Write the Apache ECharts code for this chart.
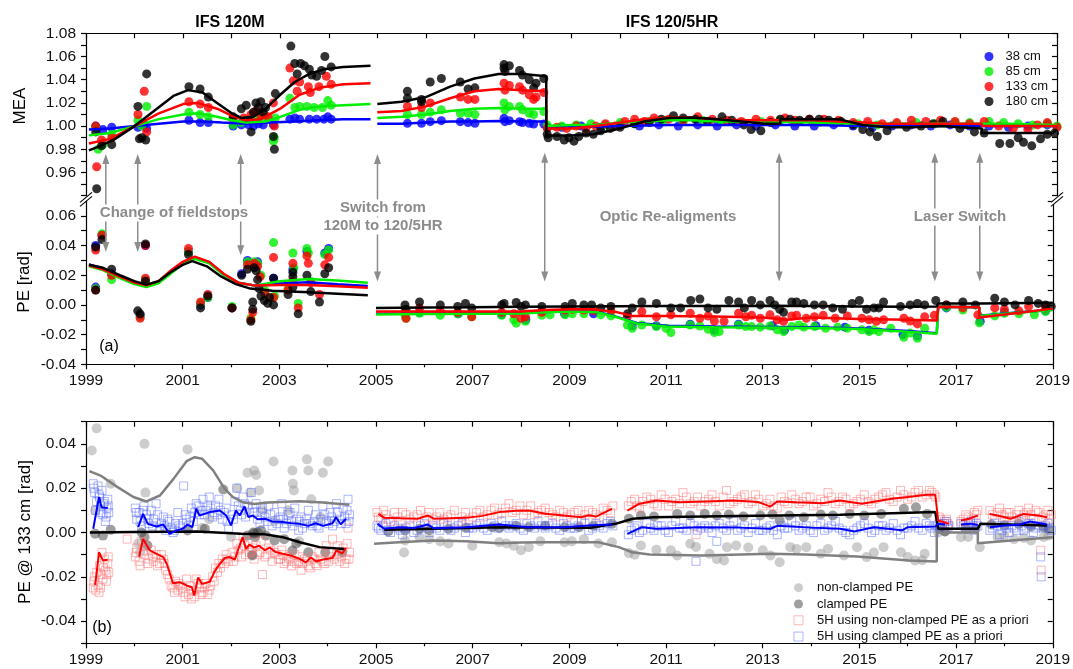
<!DOCTYPE html>
<html>
<head>
<meta charset="utf-8">
<script src="https://cdn.jsdelivr.net/npm/echarts/dist/echarts.min.js"></script>
<style>
  html, body { margin: 0; padding: 0; background: #fff; }
  #chart { width: 1073px; height: 669px; }
</style>
</head>
<body>
<div id="chart"></div>
<script>
// ---------- (a) MEA samples, [year, MEA] per detector height ----------
const mea38 = [
  [1999.2,1.000],[1999.22,0.998],[1999.35,0.997],[1999.53,0.999],[2000.07,0.999],[2000.2,1.001],[2000.25,0.998],
  [2001.12,1.005],[2001.35,1.003],[2001.52,1.003],[2002.03,1.000],[2002.2,1.001],[2002.35,1.001],[2002.45,1.000],
  [2002.55,1.002],[2002.65,1.001],[2002.86,1.001],[2003.2,1.006],[2003.3,1.007],[2003.4,1.006],[2003.6,1.006],
  [2003.75,1.006],[2003.9,1.006],[2003.98,1.008],[2004.05,1.006],
  [2005.62,1.0024],[2005.91,1.0024],[2006.09,1.0038],[2006.32,1.0047],[2006.71,1.0038],[2006.87,1.003],[2007.01,1.0024],
  [2007.61,1.0067],[2007.63,1.0038],[2007.72,1.0047],[2007.93,1.0038],[2007.99,1.003],[2008.13,1.0024],[2008.22,1.0018],[2008.43,1.0018],
  [2008.5,0.999],[2008.8,0.999],[2009.2,1.000],[2009.6,0.999],[2010.0,1.001],[2010.4,1.000],[2010.8,1.001],[2011.2,1.000],
  [2011.6,1.001],[2012.0,1.000],[2012.4,1.001],[2012.8,1.000],[2013.2,1.001],[2013.6,1.000],[2014.0,1.000],[2014.4,1.001],
  [2014.8,1.000],[2015.2,0.999],[2015.6,1.000],[2016.0,1.001],[2016.4,1.000],[2016.8,1.001],[2017.2,1.000],[2017.6,1.000],
  [2018.0,0.999],[2018.4,1.000],[2018.8,1.001]
];
const mea85 = [
  [1999.2,0.999],[1999.25,0.980],[1999.35,0.984],[1999.53,0.993],[2000.07,1.005],[2000.15,1.000],[2000.25,1.017],
  [2001.12,1.012],[2001.35,1.010],[2001.52,1.008],[2002.03,1.001],[2002.2,1.003],[2002.4,1.006],[2002.55,1.007],
  [2002.7,1.008],[2002.86,0.987],[2002.88,0.990],[2002.9,1.007],[2003.2,1.024],[2003.3,1.016],[2003.4,1.017],
  [2003.55,1.017],[2003.7,1.016],[2003.87,1.016],[2003.98,1.022],[2004.05,1.018],
  [2005.62,1.010],[2005.91,1.010],[2006.09,1.012],[2006.32,1.014],[2006.71,1.011],[2006.87,1.011],[2007.01,1.010],
  [2007.61,1.020],[2007.63,1.014],[2007.72,1.017],[2007.93,1.017],[2007.99,1.014],[2008.13,1.011],[2008.22,1.010],[2008.43,1.0125],
  [2008.5,1.001],[2008.8,1.000],[2009.1,1.001],[2009.4,1.002],[2009.7,1.001],[2010.0,1.003],[2010.3,1.002],[2010.6,1.004],
  [2010.9,1.005],[2011.3,1.004],[2011.7,1.005],[2012.1,1.004],[2012.5,1.003],[2012.9,1.004],[2013.3,1.005],[2013.7,1.004],
  [2014.1,1.003],[2014.5,1.004],[2014.9,1.002],[2015.3,1.001],[2015.7,1.002],[2016.1,1.003],[2016.5,1.002],[2016.9,1.003],
  [2017.2,1.003],[2017.6,1.004],[2017.9,1.003],[2018.2,1.002],[2018.5,1.001],[2018.8,1.002],[2019.0,1.000]
];
const mea133 = [
  [1999.2,1.000],[1999.22,0.965],[1999.32,0.988],[1999.53,0.990],[2000.07,1.010],[2000.2,1.030],[2000.25,0.995],
  [2001.12,1.021],[2001.35,1.019],[2001.52,1.016],[2002.03,1.006],[2002.25,1.007],[2002.4,1.010],[2002.5,1.013],
  [2002.6,1.009],[2002.75,1.008],[2002.86,1.020],[2002.88,1.000],[2003.2,1.050],[2003.27,1.039],[2003.35,1.030],
  [2003.4,1.038],[2003.58,1.034],[2003.62,1.029],[2003.8,1.034],[2003.95,1.043],[2004.05,1.036],
  [2005.62,1.017],[2005.91,1.016],[2006.09,1.020],[2006.71,1.025],[2006.87,1.023],[2007.01,1.023],[2007.61,1.037],
  [2007.63,1.031],[2007.72,1.035],[2007.93,1.034],[2007.99,1.031],[2008.13,1.027],[2008.22,1.023],[2008.27,1.025],[2008.43,1.029],
  [2008.5,0.998],[2008.7,0.999],[2008.9,0.998],[2009.1,1.000],[2009.3,0.998],[2009.5,1.000],[2009.7,1.002],[2009.9,1.000],
  [2010.1,1.004],[2010.3,1.006],[2010.5,1.004],[2010.7,1.007],[2011.0,1.006],[2011.3,1.005],[2011.6,1.008],[2011.9,1.006],
  [2012.2,1.005],[2012.5,1.004],[2012.8,1.006],[2013.1,1.005],[2013.4,1.007],[2013.6,1.005],[2013.9,1.006],[2014.2,1.006],
  [2014.5,1.005],[2014.8,1.003],[2015.1,1.004],[2015.4,1.002],[2015.7,1.003],[2016.0,1.005],[2016.3,1.004],[2016.6,1.005],
  [2016.9,1.004],[2017.2,1.002],[2017.5,1.004],[2017.8,1.000],[2018.1,0.998],[2018.4,0.997],[2018.6,1.001],[2018.8,1.003],[2019.0,0.999]
];
const mea180 = [
  [1999.2,0.995],[1999.22,0.946],[1999.32,0.983],[1999.53,0.984],[2000.07,1.017],[2000.1,0.989],[2000.15,0.990],
  [2000.23,0.988],[2000.25,1.045],[2001.12,1.034],[2001.35,1.032],[2001.52,1.025],[2002.03,1.008],[2002.2,1.015],
  [2002.3,1.018],[2002.35,1.005],[2002.4,0.995],[2002.45,1.012],[2002.5,1.020],[2002.55,1.016],[2002.6,1.021],
  [2002.65,1.012],[2002.7,1.016],[2002.86,0.991],[2002.88,0.980],[2002.9,1.028],[2003.22,1.069],[2003.3,1.054],
  [2003.35,1.045],[2003.42,1.054],[2003.5,1.052],[2003.6,1.049],[2003.65,1.044],[2003.75,1.043],[2003.85,1.048],
  [2003.92,1.060],[2004.05,1.051],
  [2005.62,1.030],[2005.62,1.024],[2005.91,1.023],[2005.91,1.021],[2006.09,1.038],[2006.32,1.041],[2006.71,1.038],
  [2006.87,1.032],[2007.01,1.033],[2007.61,1.053],[2007.61,1.050],[2007.63,1.047],[2007.72,1.052],[2007.93,1.048],
  [2007.99,1.044],[2008.13,1.040],[2008.22,1.033],[2008.27,1.037],[2008.43,1.041],
  [2008.5,0.993],[2008.52,0.990],[2008.7,0.991],[2008.85,0.988],[2008.95,0.990],[2009.05,0.987],[2009.15,0.991],
  [2009.3,0.994],[2009.45,0.993],[2009.6,0.996],[2009.8,0.998],[2010.0,0.999],[2010.3,1.002],[2010.6,1.003],
  [2010.85,1.006],[2011.1,1.009],[2011.3,1.007],[2011.55,1.006],[2011.8,1.004],[2012.1,1.008],[2012.3,1.005],
  [2012.55,1.001],[2012.7,0.997],[2012.9,0.996],[2013.1,1.003],[2013.3,1.006],[2013.5,1.006],[2013.7,1.005],
  [2013.9,1.006],[2014.1,1.006],[2014.3,1.005],[2014.55,1.004],[2014.8,1.001],[2015.0,0.997],[2015.15,0.995],
  [2015.3,0.991],[2015.5,0.996],[2015.9,0.999],[2016.2,1.000],[2016.45,1.002],[2016.65,1.004],[2017.0,0.998],
  [2017.3,0.995],[2017.5,0.994],[2017.82,0.985],[2018.03,0.985],[2018.2,0.990],[2018.31,0.986],[2018.48,0.983],
  [2018.66,0.989],[2018.8,0.993],[2018.95,0.994]
];

// ---------- (a) MEA fitted curves (null = gap between instruments) ----------
const meaFit38 = [
  [1999.06,0.997],[1999.5,0.998],[2000.0,1.000],[2000.5,1.002],[2001.0,1.004],[2001.4,1.004],[2001.8,1.003],
  [2002.3,1.002],[2002.8,1.003],[2003.3,1.004],[2003.8,1.005],[2004.3,1.006],[2004.86,1.006], null,
  [2005.0,1.002],[2005.5,1.002],[2006.0,1.003],[2006.5,1.004],[2007.0,1.004],[2007.5,1.0045],[2008.0,1.004],
  [2008.48,1.004],[2008.48,0.999],[2009.0,0.999],[2010.0,1.000],[2011.0,1.001],[2012.0,1.001],[2013.0,1.001],
  [2014.0,1.001],[2015.0,1.000],[2016.0,1.000],[2017.0,1.000],[2018.0,1.000],[2019.0,1.000]
];
const meaFit85 = [
  [1999.06,0.992],[1999.5,0.994],[2000.0,1.000],[2000.5,1.006],[2001.0,1.010],[2001.3,1.011],[2001.7,1.008],
  [2002.0,1.005],[2002.3,1.003],[2002.7,1.004],[2003.0,1.008],[2003.4,1.014],[2003.8,1.017],[2004.3,1.018],[2004.86,1.019], null,
  [2005.0,1.007],[2005.5,1.008],[2006.0,1.010],[2006.5,1.013],[2007.0,1.015],[2007.5,1.0155],[2008.0,1.015],
  [2008.48,1.015],[2008.48,1.000],[2009.0,1.001],[2009.5,1.001],[2010.0,1.003],[2010.5,1.004],[2011.0,1.005],
  [2011.5,1.005],[2012.0,1.004],[2013.0,1.004],[2014.0,1.003],[2015.0,1.002],[2016.0,1.002],[2017.45,1.002],
  [2018.0,1.002],[2019.0,1.001]
];
const meaFit133 = [
  [1999.06,0.985],[1999.5,0.989],[2000.0,1.000],[2000.5,1.011],[2001.0,1.019],[2001.3,1.020],[2001.7,1.015],
  [2002.0,1.009],[2002.3,1.005],[2002.6,1.006],[2003.0,1.015],[2003.4,1.027],[2003.8,1.033],[2004.3,1.036],[2004.86,1.037], null,
  [2005.0,1.012],[2005.5,1.013],[2006.0,1.017],[2006.5,1.024],[2007.0,1.030],[2007.5,1.032],[2008.0,1.031],
  [2008.48,1.030],[2008.48,0.998],[2009.0,0.998],[2009.5,1.000],[2010.0,1.003],[2010.5,1.006],[2011.0,1.0075],
  [2011.5,1.0075],[2012.0,1.006],[2012.5,1.005],[2013.5,1.005],[2014.0,1.005],[2014.5,1.004],[2015.0,1.003],
  [2015.5,1.002],[2016.6,1.002],[2017.45,1.002],[2017.45,1.000],[2018.0,1.000],[2019.0,1.000]
];
const meaFit180 = [
  [1999.06,0.979],[1999.3,0.983],[1999.6,0.989],[2000.0,1.000],[2000.4,1.013],[2000.8,1.026],[2001.1,1.031],
  [2001.4,1.029],[2001.7,1.020],[2002.0,1.011],[2002.2,1.007],[2002.45,1.008],[2002.7,1.015],[2003.0,1.027],
  [2003.3,1.038],[2003.6,1.045],[2003.9,1.049],[2004.3,1.051],[2004.86,1.052], null,
  [2005.0,1.019],[2005.5,1.021],[2006.0,1.025],[2006.5,1.034],[2007.0,1.041],[2007.5,1.045],[2008.0,1.045],
  [2008.48,1.043],[2008.48,0.992],[2009.0,0.992],[2009.45,0.993],[2010.0,0.998],[2010.5,1.004],[2011.0,1.007],
  [2011.5,1.0075],[2012.0,1.006],[2012.5,1.004],[2013.0,1.002],[2013.3,1.002],[2013.3,1.006],[2014.0,1.006],
  [2014.5,1.006],[2015.0,1.001],[2015.5,0.999],[2016.0,0.999],[2016.6,1.000],[2017.0,0.999],[2017.45,0.998],
  [2017.45,0.994],[2018.0,0.994],[2018.9,0.994],[2019.0,0.997]
];

// ---------- (a) PE samples, [year, PE rad] ----------
const pe38 = [
  [1999.2,0.040],[1999.2,0.012],[1999.33,0.047],[1999.53,0.021],[2000.12,-0.007],[2000.23,0.040],[2001.12,0.036],
  [2001.37,0.000],[2001.52,0.005],[2002.02,-0.002],[2002.22,0.021],[2002.34,0.030],[2002.48,0.027],[2002.55,0.029],
  [2002.88,0.018],[2003.28,0.024],[2003.57,0.036],[2003.94,0.035],[2004.02,0.038],
  [2005.6,-0.006],[2005.9,-0.005],[2006.7,-0.006],[2007.6,-0.0065],[2008.1,-0.010],[2008.9,-0.006],[2009.5,-0.006],
  [2010.3,-0.014],[2010.8,-0.014],[2011.5,-0.013],[2012.0,-0.017],[2012.5,-0.013],[2013.2,-0.014],[2013.45,-0.017],
  [2014.1,-0.014],[2014.7,-0.015],[2015.2,-0.017],[2015.9,-0.020],[2016.2,-0.021],[2016.8,-0.002],[2017.5,-0.011],
  [2018.0,-0.005],[2018.85,-0.004]
];
const pe85 = [
  [1999.2,0.011],[1999.33,0.048],[1999.53,0.017],[2000.12,-0.008],[2000.23,0.017],[2001.12,0.036],[2001.37,0.001],
  [2001.52,0.005],[2002.02,-0.001],[2002.34,0.029],[2002.41,-0.009],[2002.48,0.029],[2002.55,0.028],[2002.62,0.020],
  [2002.7,0.010],[2002.88,0.042],[2002.9,0.006],[2003.18,0.011],[2003.28,0.035],[2003.3,0.025],[2003.39,0.001],
  [2003.57,0.038],[2003.6,0.035],[2003.65,0.016],[2003.94,0.034],[2004.02,0.037],
  [2005.6,-0.0067],[2005.62,-0.009],[2005.9,-0.0056],[2006.33,-0.007],[2006.69,-0.006],[2006.98,-0.008],[2007.6,-0.007],
  [2007.85,-0.010],[2007.9,-0.0123],[2008.09,-0.011],[2008.43,-0.007],[2008.6,-0.0067],[2008.91,-0.0067],[2009.06,-0.006],
  [2009.3,-0.006],[2009.65,-0.0067],[2009.86,-0.0074],[2010.2,-0.0135],[2010.3,-0.0157],[2010.5,-0.0135],[2010.8,-0.0146],
  [2011.0,-0.0157],[2011.1,-0.0186],[2011.5,-0.0135],[2011.7,-0.0142],[2011.87,-0.0164],[2012.0,-0.0186],[2012.1,-0.018],
  [2012.5,-0.0135],[2012.65,-0.0146],[2012.77,-0.0146],[2012.95,-0.015],[2013.15,-0.0142],[2013.3,-0.0168],[2013.43,-0.018],
  [2013.6,-0.0146],[2013.75,-0.0135],[2013.85,-0.015],[2014.07,-0.0146],[2014.3,-0.0157],[2014.55,-0.015],[2014.75,-0.0157],
  [2015.05,-0.0168],[2015.2,-0.018],[2015.3,-0.0168],[2015.4,-0.018],[2015.65,-0.0157],[2015.92,-0.0218],[2016.05,-0.019],
  [2016.2,-0.0225],[2016.35,-0.0157],[2016.8,-0.0016],[2017.14,-0.0034],[2017.48,-0.012],[2017.8,-0.0074],[2018.0,-0.0056],
  [2018.3,-0.006],[2018.62,-0.0067],[2018.85,-0.0045]
];
const pe133 = [
  [1999.2,0.037],[1999.2,0.010],[1999.33,0.047],[1999.53,0.020],[2000.12,-0.009],[2000.23,0.040],[2000.23,0.018],
  [2001.12,0.038],[2001.37,0.002],[2001.52,0.007],[2002.02,-0.002],[2002.34,0.027],[2002.41,-0.010],[2002.45,-0.005],
  [2002.48,0.028],[2002.55,0.026],[2002.6,0.019],[2002.7,0.008],[2002.88,0.032],[2002.88,0.005],[2003.18,0.010],
  [2003.28,0.028],[2003.28,0.016],[2003.39,-0.002],[2003.57,0.033],[2003.6,0.028],[2003.65,0.015],[2003.83,0.007],
  [2003.94,0.027],[2004.02,0.032],
  [2005.6,-0.0045],[2005.62,-0.009],[2005.9,-0.002],[2006.33,-0.004],[2006.69,-0.005],[2006.98,-0.008],[2007.6,-0.005],
  [2007.85,-0.006],[2008.0,-0.009],[2008.09,-0.008],[2008.43,-0.005],[2008.91,-0.0035],[2009.06,-0.003],[2009.3,-0.0035],
  [2009.5,-0.004],[2009.86,-0.004],[2010.2,-0.008],[2010.5,-0.0045],[2010.8,-0.008],[2011.1,-0.0067],[2011.5,-0.0056],
  [2011.7,-0.009],[2011.87,-0.0075],[2012.0,-0.011],[2012.2,-0.011],[2012.5,-0.0056],[2012.65,-0.008],[2012.77,-0.007],
  [2012.95,-0.009],[2013.15,-0.0067],[2013.3,-0.010],[2013.43,-0.011],[2013.6,-0.0075],[2013.7,-0.007],[2013.9,-0.009],
  [2014.07,-0.008],[2014.25,-0.007],[2014.5,-0.009],[2014.75,-0.0074],[2015.05,-0.009],[2015.2,-0.010],[2015.35,-0.011],
  [2015.5,-0.010],[2015.92,-0.009],[2016.05,-0.0108],[2016.2,-0.0128],[2016.35,-0.008],[2016.55,-0.007],[2016.8,0.000],
  [2017.14,-0.002],[2017.45,-0.0067],[2017.8,-0.002],[2018.0,-0.003],[2018.3,-0.004],[2018.5,-0.001],[2018.85,-0.002]
];
const pe180 = [
  [1999.2,0.039],[1999.2,0.010],[1999.33,0.044],[1999.53,0.024],[2000.07,-0.004],[2000.12,-0.006],[2000.23,0.041],
  [2000.23,0.016],[2001.12,0.034],[2001.37,-0.002],[2001.52,0.006],[2002.02,-0.002],[2002.22,0.020],[2002.34,0.024],
  [2002.41,-0.011],[2002.45,0.002],[2002.45,-0.003],[2002.48,0.025],[2002.52,0.023],[2002.55,0.017],[2002.58,0.011],
  [2002.62,0.006],[2002.69,0.003],[2002.76,0.001],[2002.8,0.005],[2002.88,0.018],[2002.88,0.000],[2003.18,0.007],
  [2003.28,0.022],[2003.28,0.019],[2003.28,0.012],[2003.39,-0.006],[2003.57,0.020],[2003.65,0.009],[2003.83,0.002],
  [2003.94,0.021],[2004.02,0.025],
  [2005.6,0.000],[2005.62,-0.003],[2005.9,0.002],[2006.33,0.000],[2006.69,-0.001],[2006.85,0.001],[2006.98,-0.002],
  [2007.6,0.000],[2007.65,0.001],[2007.9,0.0016],[2008.0,-0.001],[2008.09,0.000],[2008.43,-0.001],[2008.91,-0.001],
  [2009.06,0.001],[2009.3,0.000],[2009.46,0.000],[2009.65,-0.002],[2009.86,-0.001],[2010.2,-0.006],[2010.3,-0.002],
  [2010.5,0.002],[2010.8,0.001],[2011.1,-0.002],[2011.3,-0.002],[2011.51,0.003],[2011.7,0.004],[2011.87,-0.002],
  [2012.05,-0.003],[2012.3,0.003],[2012.5,0.002],[2012.62,-0.002],[2012.77,0.003],[2012.95,0.000],[2013.15,0.003],
  [2013.25,0.000],[2013.35,-0.003],[2013.43,-0.005],[2013.6,0.002],[2013.7,0.002],[2013.85,0.001],[2014.07,0.000],
  [2014.25,0.000],[2014.45,-0.002],[2014.65,-0.003],[2014.85,0.001],[2015.0,0.003],[2015.15,-0.003],[2015.3,-0.002],
  [2015.4,-0.002],[2015.5,0.002],[2015.85,-0.001],[2016.05,0.000],[2016.2,0.001],[2016.35,0.000],[2016.58,0.003],
  [2016.8,0.000],[2017.14,0.002],[2017.4,0.000],[2017.8,0.0045],[2018.0,0.002],[2018.22,0.000],[2018.5,0.003],
  [2018.7,0.001],[2018.85,0.000],[2018.97,-0.001]
];

// ---------- (a) PE fitted curves ----------
const peFit38 = [
  [1999.06,0.0272],[1999.35,0.0245],[1999.7,0.0188],[2000.0,0.0148],[2000.25,0.0128],[2000.5,0.0153],[2000.75,0.0222],
  [2001.0,0.0283],[2001.25,0.0318],[2001.55,0.0288],[2001.85,0.0205],[2002.15,0.015],[2002.5,0.013],[2003.0,0.0145],
  [2003.6,0.0152],[2004.2,0.014],[2004.83,0.0128], null,
  [2005.0,-0.006],[2006.0,-0.0058],[2007.0,-0.0056],[2008.0,-0.0054],[2008.5,-0.0047],[2009.0,-0.0042],[2009.6,-0.0047],
  [2010.0,-0.0082],[2010.4,-0.0122],[2011.0,-0.0141],[2012.0,-0.0146],[2013.0,-0.0148],[2014.0,-0.0151],[2015.0,-0.0159],
  [2016.0,-0.0176],[2016.6,-0.0191],[2016.63,-0.0012],[2017.48,-0.0015],[2017.48,-0.0073],[2018.0,-0.0058],[2019.0,-0.0033]
];
const peFit85 = [
  [1999.06,0.026],[1999.35,0.0235],[1999.7,0.018],[2000.0,0.014],[2000.25,0.012],[2000.5,0.0145],[2000.75,0.021],
  [2001.0,0.0275],[2001.25,0.031],[2001.55,0.028],[2001.85,0.020],[2002.15,0.015],[2002.5,0.013],[2003.0,0.016],
  [2003.6,0.0175],[2004.2,0.0165],[2004.83,0.015], null,
  [2005.0,-0.0065],[2006.0,-0.0062],[2007.0,-0.006],[2008.0,-0.0058],[2008.5,-0.005],[2009.0,-0.0045],[2009.6,-0.005],
  [2010.0,-0.0085],[2010.4,-0.0125],[2011.0,-0.0145],[2012.0,-0.015],[2013.0,-0.0152],[2014.0,-0.0155],[2015.0,-0.0163],
  [2016.0,-0.018],[2016.6,-0.0195],[2016.63,-0.0012],[2017.48,-0.0015],[2017.48,-0.0075],[2018.0,-0.006],[2019.0,-0.0035]
];
const peFit133 = [
  [1999.06,0.0267],[1999.35,0.024],[1999.7,0.019],[2000.0,0.015],[2000.25,0.0132],[2000.5,0.016],[2000.75,0.023],
  [2001.0,0.029],[2001.25,0.0325],[2001.55,0.029],[2001.85,0.021],[2002.15,0.015],[2002.5,0.013],[2003.0,0.0135],
  [2003.6,0.0135],[2004.2,0.0125],[2004.83,0.0115], null,
  [2005.0,-0.0045],[2006.0,-0.0045],[2007.0,-0.0045],[2008.0,-0.0045],[2008.5,-0.0035],[2009.0,-0.003],[2009.5,-0.003],
  [2010.0,-0.005],[2010.3,-0.0074],[2011.0,-0.0075],[2012.0,-0.0078],[2013.0,-0.0085],[2013.5,-0.010],[2014.0,-0.0085],
  [2015.0,-0.0095],[2016.0,-0.010],[2016.6,-0.0105],[2016.63,-0.0012],[2017.48,-0.0015],[2017.48,-0.0085],[2018.0,-0.0065],
  [2019.0,-0.0025]
];
const peFit180 = [
  [1999.06,0.027],[1999.35,0.025],[1999.7,0.020],[2000.0,0.016],[2000.25,0.0137],[2000.5,0.016],[2000.75,0.022],
  [2001.0,0.027],[2001.2,0.0295],[2001.5,0.026],[2001.8,0.019],[2002.1,0.014],[2002.4,0.011],[2002.85,0.0095],
  [2003.6,0.0085],[2004.2,0.0075],[2004.83,0.0065], null,
  [2005.0,-0.002],[2006.0,-0.0017],[2007.0,-0.0015],[2008.0,-0.0012],[2009.0,-0.001],[2010.0,-0.0009],[2011.0,-0.0008],
  [2012.0,-0.0007],[2013.0,-0.0006],[2014.0,-0.0008],[2015.0,-0.001],[2016.0,-0.0012],[2016.6,-0.001],[2016.63,0.001],
  [2017.5,0.001],[2018.0,0.0012],[2019.0,0.0015]
];

// ---------- (b) PE at 133 cm ----------
const nonClampedPE = [
  [1999.12,0.037],[1999.19,0.010],[1999.22,0.047],[1999.51,0.022],[2000.08,-0.005],[2000.12,-0.009],[2000.21,0.040],
  [2000.23,0.018],[2001.1,0.0375],[2001.4,0.002],[2001.55,0.006],[2002.0,-0.002],[2002.13,0.020],[2002.34,0.027],
  [2002.4,0.018],[2002.44,-0.010],[2002.48,0.028],[2002.52,0.026],[2002.58,0.019],[2002.65,0.010],[2002.88,0.032],
  [2002.9,0.005],[2003.18,0.010],[2003.27,0.028],[2003.28,0.022],[2003.3,0.019],[2003.41,-0.004],[2003.57,0.033],
  [2003.6,0.028],[2003.66,0.015],[2003.85,0.007],[2003.9,0.027],[2004.01,0.032],
  [2005.58,-0.009],[2005.6,-0.0036],[2005.9,-0.002],[2006.1,-0.003],[2006.33,-0.004],[2006.5,-0.005],[2006.99,-0.006],
  [2007.55,-0.0044],[2007.7,-0.005],[2007.85,-0.006],[2008.0,-0.008],[2008.16,-0.0066],[2008.4,-0.004],[2008.9,-0.0044],
  [2009.05,-0.004],[2009.3,-0.003],[2009.6,-0.005],[2009.88,-0.0044],[2010.23,-0.0093],[2010.35,-0.010],[2010.48,-0.0059],
  [2010.8,-0.0078],[2011.1,-0.008],[2011.23,-0.0104],[2011.5,-0.0051],[2011.62,-0.0065],[2011.9,-0.0096],[2012.05,-0.012],
  [2012.2,-0.0126],[2012.26,-0.0066],[2012.45,-0.0059],[2012.7,-0.0068],[2013.0,-0.008],[2013.16,-0.0104],[2013.35,-0.0134],
  [2013.57,-0.0066],[2013.7,-0.0074],[2013.9,-0.0066],[2014.2,-0.0096],[2014.35,-0.0074],[2014.68,-0.0104],[2014.95,-0.0066],
  [2015.15,-0.0111],[2015.3,-0.009],[2015.5,-0.0066],[2015.86,-0.0089],[2016.0,-0.0111],[2016.15,-0.0126],[2016.3,-0.0125],
  [2016.35,-0.0096],[2016.63,0.000],[2016.77,0.0005],[2017.1,-0.0021],[2017.25,-0.002],[2017.49,-0.0066],[2017.86,-0.0021],
  [2018.0,-0.0015],[2018.2,-0.003],[2018.4,-0.0025],[2018.55,-0.0036],[2018.81,-0.002],[2018.91,-0.0014]
];
const clampedPE = [
  [1999.19,-0.0006],[1999.35,-0.0014],[1999.51,0.0012],[2000.15,0.000],[2000.21,-0.0021],[2000.27,-0.0059],[2001.1,0.0009],
  [2001.46,0.0017],[2001.84,0.0194],[2002.34,-0.0014],[2002.44,-0.0104],[2002.46,0.000],[2002.48,-0.0005],[2002.5,-0.002],
  [2002.55,0.000],[2002.62,0.001],[2002.72,-0.0014],[2002.9,-0.0036],[2003.1,-0.003],[2003.27,-0.0081],[2003.35,-0.005],
  [2003.6,-0.0089],[2003.95,-0.0089],[2004.3,-0.0089],
  [2005.25,0.0005],[2005.6,0.0009],[2005.9,0.0017],[2006.1,0.001],[2006.5,0.0017],[2006.86,0.0021],[2007.4,0.0024],
  [2007.55,0.002],[2007.9,0.003],[2008.16,0.0024],[2008.5,0.003],[2008.9,0.0024],[2009.2,0.0024],[2009.5,0.003],
  [2009.88,0.0039],[2010.23,0.0062],[2010.48,0.0077],[2010.75,0.0072],[2011.23,0.0084],[2011.5,0.0077],[2011.8,0.0084],
  [2012.05,0.0077],[2012.3,0.0081],[2012.6,0.0072],[2012.95,0.0077],[2013.2,0.0081],[2013.35,0.0054],[2013.55,0.0077],
  [2013.85,0.0069],[2014.2,0.0081],[2014.45,0.0077],[2014.8,0.0084],[2015.1,0.0077],[2015.45,0.0084],[2015.92,0.0107],
  [2016.17,0.0114],[2016.4,0.0084],[2016.66,0.0017],[2016.77,0.0005],[2017.2,0.0017],[2017.4,0.0017],[2017.73,0.0036],
  [2018.0,0.0033],[2018.3,0.0039],[2018.55,0.0027],[2018.81,0.0024],[2018.91,0.0017]
];
const fiveHNonClamped = [
  [1999.15,-0.025],[1999.18,-0.020],[1999.2,-0.026],[1999.25,-0.024],[1999.28,-0.015],[1999.3,-0.025],[1999.33,-0.009],
  [1999.35,-0.021],[1999.38,-0.012],[1999.4,-0.017],[1999.43,-0.019],[1999.45,-0.014],[1999.47,-0.018],
  [1999.16,-0.022],[1999.22,-0.018],[1999.27,-0.027],[1999.31,-0.019],[1999.36,-0.016],[1999.42,-0.022],[1999.46,-0.011],
  [1999.85,-0.003],[2000.02,-0.011],[2000.05,-0.007],[2000.1,-0.013],[2000.15,-0.004],[2000.2,-0.010],[2000.25,-0.006],
  [2000.3,-0.012],[2000.35,-0.008],[2000.4,-0.013],[2000.45,-0.010],[2000.52,-0.014],[2000.6,-0.012],[2000.65,-0.017],
  [2000.72,-0.021],[2000.8,-0.025],[2000.85,-0.022],[2000.9,-0.026],[2000.95,-0.024],[2001.02,-0.027],[2001.08,-0.021],
  [2001.12,-0.028],[2001.18,-0.030],[2001.22,-0.026],[2001.28,-0.021],[2001.35,-0.025],[2001.42,-0.027],[2001.48,-0.023],
  [2001.55,-0.026],[2001.62,-0.020],[2001.68,-0.016],[2001.75,-0.014],[2001.82,-0.012],[2001.9,-0.010],[2001.95,-0.013],
  [2002.02,-0.009],[2002.08,-0.011],[2002.12,-0.005],[2002.2,-0.007],[2002.25,-0.002],[2002.3,-0.010],[2002.35,-0.004],
  [2002.42,-0.008],[2002.48,-0.012],[2002.52,-0.006],[2002.6,-0.009],[2002.65,-0.019],[2002.7,-0.011],[2002.78,-0.007],
  [2002.85,-0.013],[2002.9,-0.009],[2002.98,-0.012],[2003.05,-0.008],[2003.1,-0.014],[2003.18,-0.011],[2003.25,-0.015],
  [2003.32,-0.010],[2003.4,-0.013],[2003.45,-0.017],[2003.52,-0.012],[2003.6,-0.015],[2003.68,-0.011],[2003.75,-0.014],
  [2003.82,-0.009],[2003.9,-0.013],[2003.97,-0.006],[2004.05,-0.011],[2004.1,-0.003],[2004.18,-0.010],[2004.25,-0.013],
  [2004.32,-0.007],[2004.38,-0.012],[2004.42,0.002],[2004.45,-0.009],
  [2000.04,-0.009],[2000.12,-0.015],[2000.18,-0.008],[2000.28,-0.014],[2000.38,-0.011],[2000.48,-0.015],[2000.56,-0.010],
  [2000.62,-0.014],[2000.69,-0.019],[2000.76,-0.024],[2000.83,-0.027],[2000.92,-0.023],[2001.0,-0.025],[2001.05,-0.029],
  [2001.15,-0.024],[2001.25,-0.029],[2001.32,-0.023],[2001.38,-0.028],[2001.45,-0.025],[2001.52,-0.028],[2001.58,-0.024],
  [2001.65,-0.022],[2001.72,-0.018],[2001.78,-0.016],[2001.86,-0.014],[2001.92,-0.012],[2002.05,-0.013],[2002.15,-0.008],
  [2002.22,-0.011],[2002.28,-0.006],[2002.38,-0.009],[2002.45,-0.007],[2002.55,-0.010],[2002.62,-0.004],[2002.75,-0.010],
  [2002.82,-0.008],[2002.95,-0.010],[2003.02,-0.012],[2003.08,-0.010],[2003.15,-0.013],[2003.22,-0.012],[2003.28,-0.013],
  [2003.36,-0.014],[2003.42,-0.011],[2003.48,-0.014],[2003.56,-0.013],[2003.64,-0.016],[2003.72,-0.012],[2003.78,-0.015],
  [2003.86,-0.012],[2003.94,-0.014],[2004.02,-0.013],[2004.08,-0.009],[2004.14,-0.012],[2004.2,-0.006],[2004.28,-0.011],
  [2004.35,-0.014],[2004.4,-0.005],[2004.44,-0.012],
  [2005.02,0.009],[2005.1,0.006],[2005.2,0.008],[2005.3,0.005],[2005.45,0.007],[2005.55,0.009],[2005.7,0.006],
  [2005.85,0.008],[2006.0,0.005],[2006.1,0.009],[2006.25,0.007],[2006.4,0.006],[2006.55,0.008],[2006.7,0.005],
  [2006.85,0.009],[2007.0,0.007],[2007.15,0.010],[2007.3,0.008],[2007.45,0.011],[2007.6,0.009],[2007.75,0.013],
  [2007.9,0.010],[2008.05,0.008],[2008.2,0.012],[2008.35,0.009],[2008.5,0.011],[2008.65,0.008],[2008.8,0.010],
  [2008.95,0.007],[2009.1,0.009],[2009.25,0.006],[2009.4,0.010],[2009.55,0.008],[2009.7,0.011],[2009.85,0.009],
  [2005.05,0.007],[2005.15,0.010],[2005.25,0.006],[2005.38,0.009],[2005.5,0.005],[2005.62,0.008],[2005.78,0.007],
  [2005.92,0.010],[2006.05,0.007],[2006.18,0.006],[2006.32,0.009],[2006.48,0.007],[2006.62,0.010],[2006.78,0.007],
  [2006.92,0.006],[2007.08,0.009],[2007.22,0.007],[2007.38,0.010],[2007.52,0.008],[2007.68,0.011],[2007.82,0.009],
  [2007.98,0.012],[2008.12,0.010],[2008.28,0.008],[2008.42,0.010],[2008.58,0.009],[2008.72,0.007],[2008.88,0.009],
  [2009.02,0.008],[2009.18,0.010],[2009.32,0.008],[2009.48,0.009],[2009.62,0.007],[2009.78,0.010],[2009.9,0.012],
  [2010.22,0.012],[2010.35,0.015],[2010.45,0.011],[2010.6,0.016],[2010.75,0.013],[2010.9,0.017],[2011.05,0.012],
  [2011.2,0.015],[2011.35,0.018],[2011.5,0.013],[2011.62,-0.001],[2011.65,0.016],[2011.8,0.014],[2011.95,0.017],
  [2012.1,0.012],[2012.25,0.019],[2012.4,0.014],[2012.55,0.016],[2012.7,0.013],[2012.85,0.017],[2013.0,0.012],
  [2013.15,0.015],[2013.3,0.011],[2013.45,0.014],[2013.6,0.017],[2013.75,0.013],[2013.9,0.016],[2014.05,0.012],
  [2014.2,0.015],[2014.35,0.018],[2014.5,0.013],[2014.65,0.016],[2014.8,0.012],[2014.95,0.014],[2015.1,0.017],
  [2015.25,0.013],[2015.4,0.016],[2015.55,0.018],[2015.7,0.014],[2015.85,0.019],[2016.0,0.015],[2016.15,0.018],
  [2016.3,0.016],[2016.45,0.019],[2016.55,0.017],
  [2010.28,0.014],[2010.4,0.012],[2010.52,0.014],[2010.68,0.015],[2010.82,0.012],[2010.98,0.015],[2011.12,0.014],
  [2011.28,0.013],[2011.42,0.016],[2011.58,0.014],[2011.72,0.012],[2011.88,0.015],[2012.02,0.014],[2012.18,0.016],
  [2012.32,0.013],[2012.48,0.015],[2012.62,0.017],[2012.78,0.014],[2012.92,0.015],[2013.08,0.013],[2013.22,0.012],
  [2013.38,0.016],[2013.52,0.013],[2013.68,0.015],[2013.82,0.014],[2013.98,0.016],[2014.12,0.013],[2014.28,0.014],
  [2014.42,0.016],[2014.58,0.014],[2014.72,0.015],[2014.88,0.013],[2015.02,0.015],[2015.18,0.014],[2015.32,0.015],
  [2015.48,0.017],[2015.62,0.015],[2015.78,0.016],[2015.92,0.017],[2016.08,0.016],[2016.22,0.019],[2016.38,0.017],
  [2016.5,0.018],[2016.58,0.016],
  [2016.65,0.007],[2016.72,0.004],[2016.8,0.006],[2016.85,0.003],[2016.68,0.006],[2016.76,0.005],[2016.83,0.004],
  [2017.1,0.005],[2017.2,0.008],[2017.3,0.004],[2017.38,0.009],[2017.45,0.010],
  [2017.15,0.006],[2017.25,0.007],[2017.35,0.006],[2017.42,0.008],
  [2017.7,0.010],[2017.8,0.006],[2017.9,0.011],[2018.0,0.007],[2018.1,0.009],[2018.2,0.005],[2018.3,0.010],
  [2018.4,0.008],[2018.5,0.011],[2018.6,0.006],[2018.7,0.009],[2018.75,-0.008],[2018.76,-0.017],[2018.8,0.007],
  [2018.9,0.010],[2018.97,0.008],
  [2017.75,0.008],[2017.85,0.009],[2017.95,0.008],[2018.05,0.009],[2018.15,0.007],[2018.25,0.008],[2018.35,0.006],
  [2018.45,0.009],[2018.55,0.008],[2018.65,0.010],[2018.85,0.008],[2018.93,0.006]
];
const fiveHClamped = [
  [1999.15,0.022],[1999.18,0.018],[1999.2,0.010],[1999.25,0.021],[1999.28,0.016],[1999.3,0.012],[1999.33,0.019],
  [1999.35,0.008],[1999.38,0.014],[1999.4,0.005],[1999.43,0.011],[1999.45,0.015],[1999.47,0.009],
  [1999.16,0.020],[1999.22,0.014],[1999.27,0.017],[1999.31,0.009],[1999.36,0.013],[1999.42,0.007],[1999.46,0.012],
  [2000.02,0.011],[2000.05,0.006],[2000.1,0.009],[2000.15,0.003],[2000.2,0.012],[2000.25,0.008],[2000.3,0.004],
  [2000.35,0.010],[2000.4,0.006],[2000.45,0.013],[2000.52,0.002],[2000.6,0.007],[2000.65,0.001],[2000.72,0.005],
  [2000.8,0.000],[2000.85,0.004],[2000.9,0.009],[2000.95,0.002],[2001.02,0.021],[2001.08,0.006],[2001.12,0.003],
  [2001.18,0.011],[2001.22,0.005],[2001.28,0.013],[2001.35,0.008],[2001.42,0.015],[2001.48,0.010],[2001.55,0.016],
  [2001.62,0.007],[2001.68,0.012],[2001.75,0.015],[2001.82,0.006],[2001.9,0.011],[2001.95,0.002],[2002.02,0.008],
  [2002.08,0.014],[2002.12,0.020],[2002.2,0.010],[2002.25,0.016],[2002.3,0.007],[2002.35,0.012],[2002.42,0.018],
  [2002.48,0.009],[2002.52,0.013],[2002.6,0.004],[2002.65,0.011],[2002.7,0.007],[2002.78,0.012],[2002.85,0.003],
  [2002.9,0.009],[2002.98,0.006],[2003.05,0.013],[2003.1,0.002],[2003.18,0.008],[2003.25,0.005],[2003.32,0.011],
  [2003.4,0.001],[2003.45,0.007],[2003.52,0.004],[2003.6,0.010],[2003.68,0.003],[2003.75,0.008],[2003.82,0.002],
  [2003.9,0.012],[2003.97,0.005],[2004.05,0.009],[2004.1,0.003],[2004.18,0.013],[2004.25,0.006],[2004.32,0.011],
  [2004.38,0.004],[2004.42,0.015],[2004.45,0.008],
  [2000.04,0.009],[2000.12,0.005],[2000.18,0.010],[2000.28,0.006],[2000.38,0.003],[2000.48,0.008],[2000.56,0.004],
  [2000.62,0.003],[2000.69,0.006],[2000.76,0.002],[2000.83,0.001],[2000.92,0.003],[2001.0,0.004],[2001.05,0.008],
  [2001.15,0.007],[2001.25,0.009],[2001.32,0.012],[2001.38,0.010],[2001.45,0.008],[2001.52,0.012],[2001.58,0.011],
  [2001.65,0.009],[2001.72,0.008],[2001.78,0.010],[2001.86,0.009],[2001.92,0.005],[2002.05,0.006],[2002.15,0.012],
  [2002.22,0.008],[2002.28,0.013],[2002.38,0.009],[2002.45,0.011],[2002.55,0.006],[2002.62,0.009],[2002.75,0.005],
  [2002.82,0.008],[2002.95,0.004],[2003.02,0.007],[2003.08,0.006],[2003.15,0.004],[2003.22,0.009],[2003.28,0.003],
  [2003.36,0.006],[2003.42,0.005],[2003.48,0.002],[2003.56,0.006],[2003.64,0.004],[2003.72,0.005],[2003.78,0.003],
  [2003.86,0.006],[2003.94,0.008],[2004.02,0.004],[2004.08,0.007],[2004.14,0.005],[2004.2,0.009],[2004.28,0.004],
  [2004.35,0.007],[2004.4,0.010],[2004.44,0.005],
  [2005.02,0.003],[2005.1,0.001],[2005.2,0.004],[2005.3,0.000],[2005.45,0.002],[2005.55,-0.001],[2005.7,0.003],
  [2005.85,0.001],[2006.0,0.004],[2006.1,0.000],[2006.25,0.002],[2006.4,0.004],[2006.55,0.001],[2006.7,0.003],
  [2006.85,0.000],[2007.0,0.002],[2007.15,0.004],[2007.3,0.001],[2007.45,0.003],[2007.6,0.005],[2007.75,0.002],
  [2007.9,0.004],[2008.05,0.001],[2008.2,0.003],[2008.35,0.005],[2008.5,0.002],[2008.65,0.004],[2008.8,0.001],
  [2008.95,0.003],[2009.1,0.002],[2009.25,0.005],[2009.4,0.001],[2009.55,0.004],[2009.7,0.002],[2009.85,0.005],
  [2005.05,0.002],[2005.15,0.003],[2005.25,0.001],[2005.38,0.003],[2005.5,0.001],[2005.62,0.002],[2005.78,0.000],
  [2005.92,0.003],[2006.05,0.002],[2006.18,0.003],[2006.32,0.001],[2006.48,0.003],[2006.62,0.002],[2006.78,0.004],
  [2006.92,0.002],[2007.08,0.003],[2007.22,0.002],[2007.38,0.004],[2007.52,0.002],[2007.68,0.003],[2007.82,0.003],
  [2007.98,0.002],[2008.12,0.004],[2008.28,0.002],[2008.42,0.003],[2008.58,0.003],[2008.72,0.002],[2008.88,0.004],
  [2009.02,0.002],[2009.18,0.003],[2009.32,0.004],[2009.48,0.002],[2009.62,0.003],[2009.78,0.004],[2009.9,0.003],
  [2010.22,-0.001],[2010.35,0.002],[2010.45,0.000],[2010.6,0.004],[2010.75,0.001],[2010.9,0.003],[2011.05,0.000],
  [2011.2,0.005],[2011.35,0.002],[2011.5,0.004],[2011.62,-0.013],[2011.65,0.001],[2011.8,0.003],[2011.95,0.000],
  [2012.05,-0.004],[2012.1,0.004],[2012.25,0.001],[2012.4,0.005],[2012.55,0.002],[2012.7,0.000],[2012.85,0.004],
  [2013.0,0.001],[2013.15,0.003],[2013.3,-0.001],[2013.45,0.002],[2013.6,0.005],[2013.75,0.001],[2013.9,0.003],
  [2014.05,0.000],[2014.2,0.004],[2014.35,0.002],[2014.5,0.005],[2014.65,0.001],[2014.8,-0.001],[2014.95,0.002],
  [2015.1,0.004],[2015.25,0.000],[2015.4,0.003],[2015.55,0.001],[2015.7,0.004],[2015.85,-0.001],[2016.0,0.002],
  [2016.15,0.005],[2016.3,0.001],[2016.45,0.003],[2016.55,0.000],
  [2010.28,0.001],[2010.4,0.003],[2010.52,0.001],[2010.68,0.002],[2010.82,0.003],[2010.98,0.001],[2011.12,0.003],
  [2011.28,0.002],[2011.42,0.001],[2011.58,0.003],[2011.72,0.002],[2011.88,0.002],[2012.02,0.003],[2012.18,0.002],
  [2012.32,0.003],[2012.48,0.001],[2012.62,0.003],[2012.78,0.002],[2012.92,0.001],[2013.08,0.002],[2013.22,0.001],
  [2013.38,0.003],[2013.52,0.002],[2013.68,0.003],[2013.82,0.002],[2013.98,0.001],[2014.12,0.003],[2014.28,0.001],
  [2014.42,0.003],[2014.58,0.002],[2014.72,0.000],[2014.88,0.001],[2015.02,0.003],[2015.18,0.002],[2015.32,0.001],
  [2015.48,0.003],[2015.62,0.002],[2015.78,0.001],[2015.92,0.002],[2016.08,0.003],[2016.22,0.002],[2016.38,0.004],
  [2016.5,0.002],[2016.58,0.003],
  [2016.65,0.004],[2016.72,0.002],[2016.8,0.005],[2016.85,0.003],[2016.68,0.003],[2016.76,0.004],[2016.83,0.002],
  [2017.1,0.004],[2017.2,0.002],[2017.3,0.005],[2017.38,0.001],[2017.45,0.003],
  [2017.15,0.003],[2017.25,0.004],[2017.35,0.003],[2017.42,0.004],
  [2017.7,0.001],[2017.8,0.004],[2017.9,-0.001],[2018.0,0.003],[2018.1,0.000],[2018.2,0.002],[2018.3,0.005],
  [2018.4,0.001],[2018.5,0.004],[2018.6,0.000],[2018.7,0.003],[2018.75,-0.011],[2018.76,-0.020],[2018.8,0.002],
  [2018.9,0.004],[2018.97,0.001],
  [2017.75,0.002],[2017.85,0.003],[2017.95,0.001],[2018.05,0.002],[2018.15,0.003],[2018.25,0.001],[2018.35,0.003],
  [2018.45,0.002],[2018.55,0.004],[2018.65,0.002],[2018.85,0.003],[2018.93,0.002]
];
const nonClampedFit = [
  [1999.07,0.0277],[1999.3,0.0257],[1999.63,0.0208],[1999.98,0.016],[2000.25,0.014],[2000.53,0.0167],[2000.81,0.0242],
  [2001.08,0.0322],[2001.25,0.034],[2001.4,0.0333],[2001.63,0.028],[2001.87,0.0197],[2002.04,0.016],[2002.24,0.0137],
  [2002.48,0.0129],[2002.7,0.0134],[2003.0,0.0138],[2003.42,0.0141],[2003.9,0.0135],[2004.45,0.0125], null,
  [2004.96,-0.0051],[2005.48,-0.0044],[2006.17,-0.0036],[2006.86,-0.0039],[2007.55,-0.0048],[2008.0,-0.0045],
  [2008.5,-0.0044],[2009.6,-0.0044],[2010.02,-0.0066],[2010.3,-0.0089],[2010.66,-0.0099],[2011.74,-0.0104],
  [2013.16,-0.0096],[2013.88,-0.0099],[2014.95,-0.0108],[2016.03,-0.0126],[2016.6,-0.0131],[2016.6,0.000],
  [2017.45,0.000],[2017.45,-0.0048],[2018.2,-0.0035],[2019.0,-0.0021]
];
const clampedFit = [
  [1999.08,0.000],[2000.0,0.0002],[2001.3,0.0005],[2002.2,-0.0006],[2002.7,-0.0008],[2003.07,-0.0021],[2003.42,-0.0044],
  [2003.83,-0.0066],[2004.35,-0.0075], null,
  [2005.17,0.0012],[2006.17,0.0017],[2007.55,0.0024],[2008.5,0.0022],[2009.44,0.0021],[2009.95,0.0039],[2010.31,0.0062],
  [2010.74,0.0069],[2012.45,0.0074],[2014.6,0.008],[2016.57,0.0092],[2016.63,0.0017],[2017.45,0.0017],[2017.5,0.0039],
  [2018.88,0.0032]
];
const fiveHNonClampedMean = [
  [1999.19,-0.0236],[1999.27,-0.0089],[1999.35,-0.0126],[1999.45,-0.0123], null,
  [2000.1,-0.0108],[2000.18,-0.0029],[2000.32,-0.0081],[2000.46,-0.0096],[2000.6,-0.0111],[2000.67,-0.0141],
  [2000.8,-0.0229],[2000.94,-0.0224],[2001.08,-0.0239],[2001.19,-0.0247],[2001.24,-0.0284],[2001.32,-0.0203],
  [2001.4,-0.0232],[2001.56,-0.0222],[2001.67,-0.0172],[2001.77,-0.0141],[2001.87,-0.0115],[2001.97,-0.0111],
  [2002.08,-0.0122],[2002.15,-0.0075],[2002.24,-0.0021],[2002.31,-0.0074],[2002.38,-0.0055],[2002.48,-0.0068],
  [2002.58,-0.006],[2002.7,-0.008],[2002.8,-0.0068],[2002.92,-0.0088],[2003.07,-0.0096],[2003.25,-0.0105],
  [2003.42,-0.0119],[2003.55,-0.0135],[2003.65,-0.0112],[2003.76,-0.0131],[2003.9,-0.0122],[2004.1,-0.0115],
  [2004.18,-0.0081],[2004.3,-0.0095],[2004.38,-0.007], null,
  [2005.05,0.0084],[2005.17,0.0066],[2005.5,0.0064],[2005.86,0.0062],[2006.07,0.0077],[2006.2,0.0062],[2006.86,0.0066],
  [2007.2,0.0075],[2007.55,0.0092],[2007.9,0.0098],[2008.16,0.0099],[2008.5,0.0085],[2008.88,0.0077],[2009.24,0.0069],
  [2009.4,0.0078],[2009.55,0.0072],[2009.88,0.0107], null,
  [2010.2,0.0099],[2010.45,0.013],[2010.8,0.0144],[2011.3,0.0137],[2011.8,0.014],[2012.4,0.0144],[2012.9,0.0138],
  [2013.16,0.0117],[2013.3,0.014],[2013.7,0.0136],[2014.23,0.0132],[2014.6,0.0144],[2015.05,0.013],[2015.67,0.0152],
  [2016.0,0.016],[2016.4,0.017],[2016.57,0.017],[2016.63,0.0054],[2016.85,0.0039], null,
  [2017.1,0.0054],[2017.27,0.0062],[2017.45,0.0077], null,
  [2017.69,0.0084],[2017.86,0.0077],[2018.13,0.0062],[2018.4,0.0084],[2018.7,0.0077],[2018.88,0.0069]
];
const fiveHClampedMean = [
  [1999.15,0.0017],[1999.27,0.016],[1999.32,0.0114],[1999.45,0.0111], null,
  [2000.08,0.0024],[2000.18,0.0084],[2000.28,0.0039],[2000.46,0.0027],[2000.6,0.0036],[2000.73,-0.0006],[2000.87,0.0009],
  [2001.0,0.0017],[2001.1,0.0036],[2001.2,0.0024],[2001.28,0.0107],[2001.35,0.0077],[2001.56,0.0092],[2001.77,0.0099],
  [2001.9,0.0077],[2002.0,0.0032],[2002.1,0.0099],[2002.18,0.0077],[2002.28,0.0117],[2002.36,0.007],[2002.45,0.0077],
  [2002.55,0.006],[2002.7,0.0062],[2002.85,0.005],[2003.07,0.0047],[2003.25,0.0042],[2003.42,0.0039],[2003.6,0.003],
  [2003.75,0.0042],[2003.9,0.003],[2004.1,0.0042],[2004.17,0.0069],[2004.27,0.0037],[2004.38,0.0062], null,
  [2005.03,0.0039],[2005.17,0.0017],[2005.48,0.0024],[2005.8,0.002],[2006.07,0.0036],[2006.2,0.0019],[2006.86,0.0024],
  [2007.55,0.0036],[2008.16,0.0024],[2008.88,0.0024],[2009.4,0.0032],[2009.88,0.0036], null,
  [2010.2,-0.0006],[2010.5,0.0024],[2010.8,0.0017],[2011.7,0.0024],[2012.5,0.0022],[2013.16,0.0017],[2013.3,0.003],
  [2014.0,0.0022],[2014.6,0.0017],[2014.9,0.0005],[2015.3,0.0024],[2015.88,0.001],[2016.0,0.0024],[2016.57,0.0027],
  [2016.63,0.0039],[2016.77,0.0036], null,
  [2017.1,0.0036],[2017.3,0.004],[2017.45,0.0034], null,
  [2017.7,0.0024],[2018.0,0.0032],[2018.3,0.0035],[2018.53,0.005],[2018.88,0.0036]
];

// ---------- instrument events (double arrows spanning both (a) axes) ----------
const eventYears = [1999.41, 2000.07, 2002.2, 2005.03, 2008.49, 2013.34, 2016.56, 2017.49];
const eventTopMEA = [0.976, 0.976, 0.976, 0.976, 0.977, 0.977, 0.977, 0.977];
const eventBottomPE = [0.0357, 0.0357, 0.0335, 0.0157, 0.0157, 0.0157, 0.0157, 0.0157];

// ---------- series names ----------
const heightNames = ['38 cm', '85 cm', '133 cm', '180 cm'];
const heightColors = ['#0000ff', '#00ee00', '#ff0000', '#000000'];
const panelBNames = ['non-clamped PE', 'clamped PE', '5H using non-clamped PE as a priori', '5H using clamped PE as a priori'];

const FONT = '"Liberation Sans", Arial, Helvetica, sans-serif';
const GREY = '#8c8c8c';
const TICK_FONT = 15.5;
const RED_SQ = 'rgba(255,105,105,0.6)';
const BLUE_SQ = 'rgba(80,100,255,0.6)';

const gap = d => d.map(p => p === null ? ['-', '-'] : p);

function evenHundredths(skip) {
  return v => {
    const k = Math.round(v * 100);
    if (k % 2 !== 0 || skip.indexOf(k) >= 0) return '';
    return (k / 100).toFixed(2);
  };
}

function xBottom(grid) {
  return {
    type: 'value', gridIndex: grid, position: 'bottom', min: 1999, max: 2019, interval: 2,
    axisLine: { show: true, onZero: false, lineStyle: { color: '#000', width: 1.2 } },
    axisTick: { show: true, inside: false, length: 5, lineStyle: { color: '#000', width: 1.2 } },
    minorTick: { show: true, splitNumber: 2, length: 3, lineStyle: { color: '#000', width: 1.2 } },
    axisLabel: { show: true, margin: 8, fontSize: TICK_FONT, color: '#111', fontFamily: FONT, formatter: v => String(Math.round(v)) },
    splitLine: { show: false }, minorSplitLine: { show: false }
  };
}
function xTop(grid) {
  return {
    type: 'value', gridIndex: grid, position: 'top', min: 1999, max: 2019, interval: 1,
    axisLine: { show: true, onZero: false, lineStyle: { color: '#000', width: 1.2 } },
    axisTick: { show: true, inside: true, length: 5, lineStyle: { color: '#000', width: 1.2 } },
    axisLabel: { show: false }, splitLine: { show: false }
  };
}
function yLeft(grid, min, max, skip) {
  return {
    type: 'value', gridIndex: grid, position: 'left', min, max, interval: 0.01,
    axisLine: { show: true, onZero: false, lineStyle: { color: '#000', width: 1.2 } },
    axisTick: { show: true, inside: false, length: 5, lineStyle: { color: '#000', width: 1.2 } },
    axisLabel: { show: true, margin: 10, fontSize: TICK_FONT, color: '#111', fontFamily: FONT, formatter: evenHundredths(skip) },
    splitLine: { show: false }
  };
}
function yRight(grid, min, max) {
  return {
    type: 'value', gridIndex: grid, position: 'right', min, max, interval: 0.01,
    axisLine: { show: true, onZero: false, lineStyle: { color: '#000', width: 1.2 } },
    axisTick: { show: true, inside: true, length: 5, lineStyle: { color: '#000', width: 1.2 } },
    axisLabel: { show: false }, splitLine: { show: false }
  };
}
function scatter(name, data, color, xi, yi, size, extra) {
  return Object.assign({
    type: 'scatter', name, data, xAxisIndex: xi, yAxisIndex: yi, symbol: 'circle', symbolSize: size,
    itemStyle: { color }, silent: true, z: 2
  }, extra || {});
}
function curve(data, color, width, xi, yi, z) {
  return {
    type: 'line', data: gap(data), xAxisIndex: xi, yAxisIndex: yi, showSymbol: false, symbol: 'none',
    connectNulls: false, lineStyle: { color, width }, silent: true, z: z || 3
  };
}

const meaSets = [mea38, mea85, mea133, mea180];
const meaFits = [meaFit38, meaFit85, meaFit133, meaFit180];
const peSets = [pe38, pe85, pe133, pe180];
const peFits = [peFit38, peFit85, peFit133, peFit180];

const series = [];
// (a) upper: MEA
heightNames.forEach((n, i) => series.push(scatter(n, meaSets[i], heightColors[i], 0, 0, 9)));
heightNames.forEach((n, i) => series.push(curve(meaFits[i], heightColors[i], 2.5, 0, 0, 4)));
// (a) lower: PE
heightNames.forEach((n, i) => series.push(scatter(n, peSets[i], heightColors[i], 1, 2, 9)));
heightNames.forEach((n, i) => series.push(curve(peFits[i], heightColors[i], 2.5, 1, 2, 4)));
// (b)
series.push(scatter(panelBNames[0], nonClampedPE, 'rgba(150,150,150,0.6)', 2, 4, 10));
series.push(scatter(panelBNames[1], clampedPE, 'rgba(55,55,55,0.6)', 2, 4, 10));
series.push(scatter(panelBNames[2], fiveHNonClamped, 'rgba(0,0,0,0)', 2, 4, 8,
  { symbol: 'rect', itemStyle: { color: 'rgba(0,0,0,0)', borderColor: RED_SQ, borderWidth: 1 } }));
series.push(scatter(panelBNames[3], fiveHClamped, 'rgba(0,0,0,0)', 2, 4, 8,
  { symbol: 'rect', itemStyle: { color: 'rgba(0,0,0,0)', borderColor: BLUE_SQ, borderWidth: 1 } }));
series.push(curve(nonClampedFit, '#808080', 2.5, 2, 4, 4));
series.push(curve(clampedFit, '#000000', 2.5, 2, 4, 4));
series.push(curve(fiveHNonClampedMean, '#ff0000', 2, 2, 4, 5));
series.push(curve(fiveHClampedMean, '#0000ff', 2, 2, 4, 5));

const chart = echarts.init(document.getElementById('chart'), null, { renderer: 'canvas' });

chart.setOption({
  animation: false,
  backgroundColor: '#ffffff',
  textStyle: { fontFamily: FONT },
  grid: [
    { left: 86, top: 33.3, width: 971, height: 162.4 },
    { left: 86, top: 201, width: 971, height: 163.3 },
    { left: 86, top: 421.7, width: 969, height: 221.6 }
  ],
  xAxis: [
    xTop(0),
    xBottom(1),
    xBottom(2),
    xTop(2)
  ],
  yAxis: [
    yLeft(0, 0.94, 1.08, [94]),
    yRight(0, 0.94, 1.08),
    yLeft(1, -0.04, 0.07, []),
    yRight(1, -0.04, 0.07),
    yLeft(2, -0.05, 0.05, []),
    yRight(2, -0.05, 0.05)
  ],
  legend: [
    {
      data: heightNames, left: 979.5, top: 44, orient: 'vertical', selectedMode: false,
      itemWidth: 9, itemHeight: 9, itemGap: 0,
      textStyle: { fontSize: 13, lineHeight: 15, color: '#111', fontFamily: FONT, padding: [0, 0, 0, 7] }
    },
    {
      data: [
        { name: panelBNames[0], itemStyle: { color: 'rgba(150,150,150,0.6)' } },
        { name: panelBNames[1], itemStyle: { color: 'rgba(55,55,55,0.6)' } },
        { name: panelBNames[2], icon: 'rect', itemStyle: { color: 'rgba(0,0,0,0)', borderColor: RED_SQ, borderWidth: 1 } },
        { name: panelBNames[3], icon: 'rect', itemStyle: { color: 'rgba(0,0,0,0)', borderColor: BLUE_SQ, borderWidth: 1 } }
      ],
      left: 788.5, top: 574.5, orient: 'vertical', selectedMode: false,
      itemWidth: 9, itemHeight: 9, itemGap: 0,
      textStyle: { fontSize: 13, lineHeight: 16.3, color: '#111', fontFamily: FONT, padding: [0, 0, 0, 9] }
    }
  ],
  series
});

// ---------- annotations: titles, axis names, event arrows, axis breaks ----------
const g = [];
function label(text, x, y, font, fill, rot, bg) {
  const el = {
    type: 'text', x, y, rotation: rot || 0, silent: true, z: 120,
    style: { text, font, fill, align: 'center', verticalAlign: 'middle' }
  };
  if (bg) { el.style.backgroundColor = '#ffffff'; el.style.padding = [1, 2]; }
  g.push(el);
}
label('IFS 120M', 230, 22.5, 'bold 16px ' + FONT, '#000');
label('IFS 120/5HR', 672, 22.5, 'bold 16px ' + FONT, '#000');
label('MEA', 20, 106, '17px ' + FONT, '#000', Math.PI / 2);
label('PE [rad]', 24, 282, '17px ' + FONT, '#000', Math.PI / 2);
label('PE @ 133 cm [rad]', 25, 532, '17px ' + FONT, '#000', Math.PI / 2);
label('(a)', 109, 347, '16px ' + FONT, '#000');
label('(b)', 102, 627.5, '16px ' + FONT, '#000');

eventYears.forEach((yr, i) => {
  const x = chart.convertToPixel({ xAxisIndex: 1 }, yr);
  const yTop = chart.convertToPixel({ yAxisIndex: 0 }, eventTopMEA[i]);
  const yBot = chart.convertToPixel({ yAxisIndex: 2 }, eventBottomPE[i]);
  g.push({ type: 'line', silent: true, z: 100, shape: { x1: x, y1: yTop + 8, x2: x, y2: yBot - 8 },
           style: { stroke: GREY, lineWidth: 1.5 } });
  g.push({ type: 'polygon', silent: true, z: 100, shape: { points: [[x, yTop], [x - 3.5, yTop + 10], [x + 3.5, yTop + 10]] },
           style: { fill: GREY } });
  g.push({ type: 'polygon', silent: true, z: 100, shape: { points: [[x, yBot], [x - 3.5, yBot - 10], [x + 3.5, yBot - 10]] },
           style: { fill: GREY } });
});

const annFont = 'bold 15px ' + FONT;
label('Change of fieldstops', 174, 213, annFont, GREY, 0, true);
label('Switch from', 383, 208, annFont, GREY, 0, true);
label('120M to 120/5HR', 383, 226, annFont, GREY, 0, true);
label('Optic Re-aligments', 668, 217, annFont, GREY, 0, true);
label('Laser Switch', 960, 217, annFont, GREY, 0, true);

// axis break marks between the MEA and PE scales
[86, 1057].forEach(x => {
  const yMid = 198.3;
  g.push({ type: 'polygon', silent: true, z: 110,
           shape: { points: [[x - 6, yMid + 4], [x + 6, yMid - 6], [x + 6, yMid - 2], [x - 6, yMid + 8]] },
           style: { fill: '#fff' } });
  g.push({ type: 'line', silent: true, z: 111, shape: { x1: x - 6, y1: yMid + 4, x2: x + 6, y2: yMid - 6 },
           style: { stroke: '#000', lineWidth: 1.1 } });
  g.push({ type: 'line', silent: true, z: 111, shape: { x1: x - 6, y1: yMid + 8, x2: x + 6, y2: yMid - 2 },
           style: { stroke: '#000', lineWidth: 1.1 } });
});

chart.setOption({ graphic: g });
</script>
</body>
</html>
